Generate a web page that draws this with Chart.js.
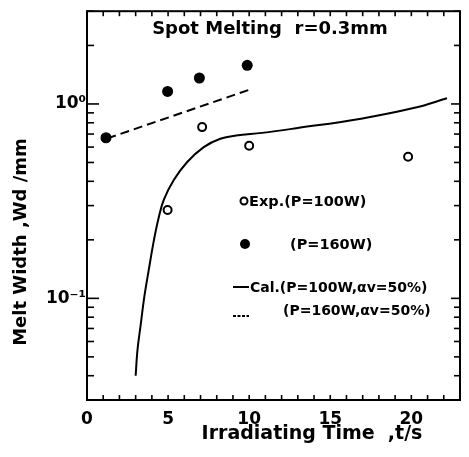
<!DOCTYPE html>
<html>
<head>
<meta charset="utf-8">
<script src="https://cdn.jsdelivr.net/npm/chart.js@4.4.1/dist/chart.umd.min.js"></script>
<style>
  html,body{margin:0;padding:0;background:#fff}
  #wrap{width:469px;height:457px}
</style>
</head>
<body>
<div id="wrap"><canvas id="c"></canvas></div>
<script>
const expT100 = [4.97, 7.1, 10.0, 19.8]
const expW100 = [0.285, 0.76, 0.61, 0.535]
const expT160 = [1.17, 4.97, 6.93, 9.88]
const expW160 = [0.67, 1.16, 1.36, 1.58]
const calT100 = [3.0, 3.11, 3.31, 3.52, 3.82, 4.13, 4.42, 4.74, 5.36, 6.18, 7.2, 8.22, 9.2, 10.8, 12.9, 16.9, 20.2, 22.2]
const calW100 = [0.040, 0.054, 0.073, 0.10, 0.142, 0.20, 0.26, 0.322, 0.407, 0.503, 0.60, 0.662, 0.688, 0.71, 0.75, 0.84, 0.955, 1.07]
const calT160 = [1.25, 10.1]
const calW160 = [0.665, 1.19]

const xTicks = [0,1,2,3,4,5,6,7,8,9,10,11,12,13,14,15,16,17,18,19,20,21,22,23]
const xLabelled = [0, 5, 10, 15, 20]
const yTicks = [0.03,0.04,0.05,0.06,0.07,0.08,0.09,0.1,0.2,0.3,0.4,0.5,0.6,0.7,0.8,0.9,1,2,3]
const yLabels = { 0.1:'10⁻¹', 1:'10⁰' }

const title = 'Spot Melting  r=0.3mm'
const xTitle = 'Irradiating Time  ,t/s'
const yTitle = 'Melt Width ,Wd /mm'
const legendLabels = ['Exp.(P=100W)', '(P=160W)', 'Cal.(P=100W,αv=50%)', '(P=160W,αv=50%)']

const FONT = '"DejaVu Sans", sans-serif'
const pts = (xs, ys) => xs.map((v,i) => ({x:v, y:ys[i]}))

function line(ctx, x1, y1, x2, y2) {
  ctx.beginPath(); ctx.moveTo(x1,y1); ctx.lineTo(x2,y2); ctx.stroke()
}

// box, inward ticks, titles and the in-plot legend
const frame = {
  id:'frame',
  afterDraw(chart) {
    const { ctx, chartArea:a, scales:{x, y} } = chart
    ctx.save()
    ctx.strokeStyle = '#000'; ctx.fillStyle = '#000'
    ctx.lineWidth = 2
    ctx.strokeRect(a.left, a.top, a.right-a.left, a.bottom-a.top)

    ctx.lineWidth = 1.6
    xTicks.forEach(v => {
      const px = x.getPixelForValue(v)
      line(ctx, px, a.bottom, px, a.bottom-5)
      line(ctx, px, a.top, px, a.top+5)
    })
    yTicks.forEach(v => {
      const py = y.getPixelForValue(v)
      const big = yLabels[v] !== undefined
      line(ctx, a.left, py, a.left+(big?12:7), py)
      line(ctx, a.right, py, a.right-(big?9:6), py)
    })

    ctx.font = `bold 18px ${FONT}`
    ctx.textAlign = 'center'; ctx.textBaseline = 'middle'
    ctx.fillText(title, 270, 29)
    ctx.save()
    ctx.translate(21, 242); ctx.rotate(-Math.PI/2)
    ctx.fillText(yTitle, 0, 0)
    ctx.restore()
    ctx.font = `bold 19px ${FONT}`
    ctx.fillText(xTitle, 312, 434)

    // legend
    ctx.font = `bold 14.5px ${FONT}`
    ctx.textAlign = 'left'
    ctx.lineWidth = 2
    ctx.beginPath(); ctx.arc(244, 201, 3.5, 0, Math.PI*2); ctx.stroke()
    ctx.fillText(legendLabels[0], 249, 202)
    ctx.beginPath(); ctx.arc(245, 244, 5, 0, Math.PI*2); ctx.fill()
    ctx.fillText(legendLabels[1], 290, 245)
    line(ctx, 233, 287, 249, 287)
    ctx.font = `bold 14px ${FONT}`
    ctx.fillText(legendLabels[2], 250, 288)
    ctx.setLineDash([3,1.5]); line(ctx, 233, 316, 249, 316); ctx.setLineDash([])
    ctx.fillText(legendLabels[3], 283, 311)
    ctx.restore()
  }
}

new Chart(document.getElementById('c'), {
  type:'scatter',
  data:{
    datasets:[
      { label:'Exp. P=100W', data:pts(expT100, expW100), pointStyle:'circle', pointRadius:4, borderWidth:2,
        borderColor:'#000', backgroundColor:'#fff' },
      { label:'Exp. P=160W', data:pts(expT160, expW160), pointStyle:'circle', pointRadius:5.5, borderWidth:0,
        borderColor:'#000', backgroundColor:'#000' },
      { label:'Cal. P=100W', data:pts(calT100, calW100), showLine:true, pointRadius:0, borderColor:'#000',
        borderWidth:2, tension:0.4 },
      { label:'Cal. P=160W', data:pts(calT160, calW160), showLine:true, pointRadius:0, borderColor:'#000',
        borderWidth:2, borderDash:[9,5] },
    ]
  },
  options:{
    responsive:true, maintainAspectRatio:false, animation:false,
    layout:{ padding:{ top:10, right:6, left:0, bottom:0 } },
    plugins:{ legend:{display:false}, tooltip:{enabled:false} },
    scales:{
      x:{
        type:'linear', min:0, max:23,
        afterFit: s => { s.height = 57 },
        afterBuildTicks: s => { s.ticks = xTicks.map(v => ({value:v})) },
        grid:{ display:false, drawTicks:false },
        border:{ display:false },
        ticks:{ autoSkip:false, maxRotation:0, padding:9, color:'#000',
          font:{ family:FONT, size:17, weight:'bold' },
          callback: v => xLabelled.includes(v) ? String(v) : '' }
      },
      y:{
        type:'logarithmic', min:0.03, max:3,
        afterFit: s => { s.width = 87 },
        afterBuildTicks: s => { s.ticks = yTicks.map(v => ({value:v})) },
        grid:{ display:false, drawTicks:false },
        border:{ display:false },
        ticks:{ autoSkip:false, padding:1, color:'#000',
          font:{ family:FONT, size:17, weight:'bold' },
          callback: v => yLabels[v] || '' }
      }
    }
  },
  plugins:[frame]
})
</script>
</body>
</html>
